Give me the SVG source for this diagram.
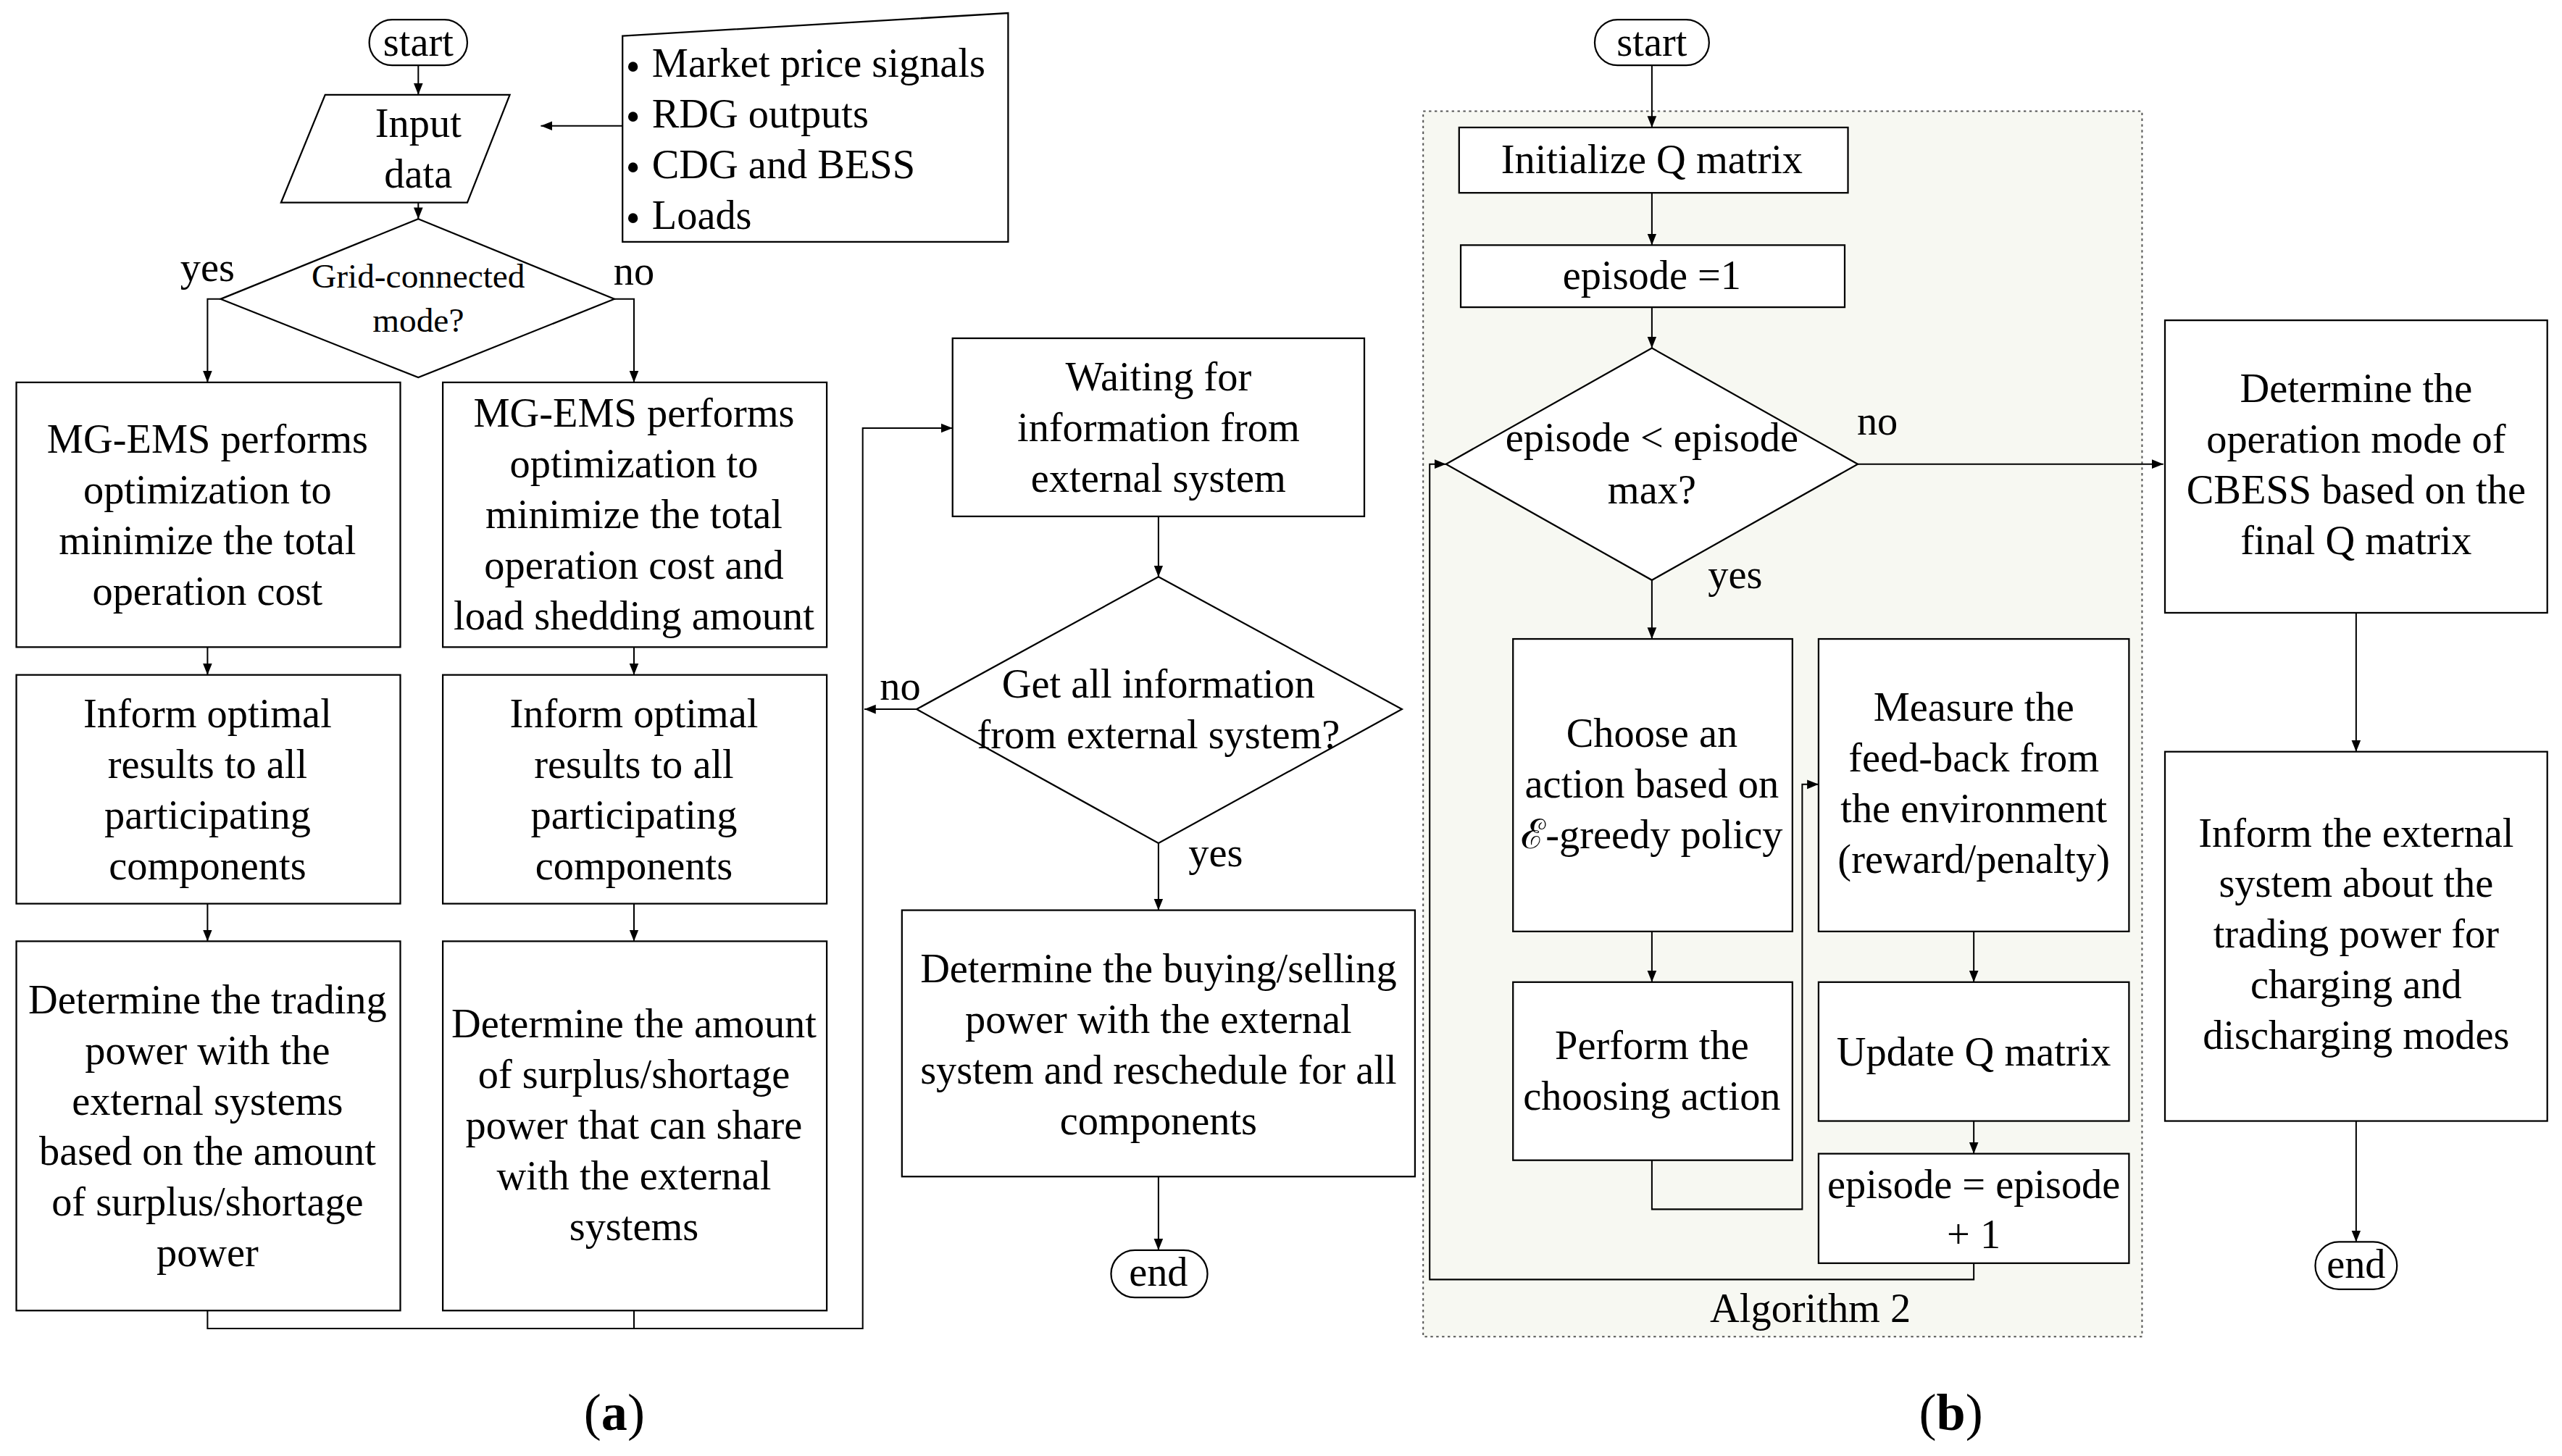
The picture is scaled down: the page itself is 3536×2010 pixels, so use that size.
<svg xmlns="http://www.w3.org/2000/svg" width="3536" height="2010" viewBox="0 0 3536 2010">
<defs>
<marker id="ar" viewBox="0 0 10 10" refX="10" refY="5" markerWidth="7" markerHeight="7" markerUnits="userSpaceOnUse" orient="auto"><path d="M0,1 L10,5 L0,9 z" fill="#000"/></marker>
<style>
.s{fill:#fff;stroke:#000;stroke-width:1}
.c{fill:none;stroke:#000;stroke-width:0.9}
text{font-family:'Liberation Serif','Times New Roman',Times,serif;font-size:25px;fill:#000;text-anchor:middle}
.sm{font-size:21px}
.l{text-anchor:start}
</style>
</defs>
<rect width="3536" height="2010" fill="#fff"/>
<g transform="scale(2.2551,2.2559)" font-family="Liberation Serif">
<g id="container"><rect x="871" y="68" width="440" height="750" fill="#f7f8f2" stroke="#555" stroke-width="0.9" stroke-dasharray="1.5,2"/><text x="1108" y="809">Algorithm 2</text></g>
<g id="connectors">
<path class="c" marker-end="url(#ar)" d="M256,40 V58"/>
<path class="c" marker-end="url(#ar)" d="M381,77 H331"/>
<path class="c" marker-end="url(#ar)" d="M256,124 V134"/>
<path class="c" marker-end="url(#ar)" d="M135,183 H127 V234"/>
<path class="c" marker-end="url(#ar)" d="M376,183 H388 V234"/>
<path class="c" marker-end="url(#ar)" d="M127,396 V413"/>
<path class="c" marker-end="url(#ar)" d="M388,396 V413"/>
<path class="c" marker-end="url(#ar)" d="M127,553 V576"/>
<path class="c" marker-end="url(#ar)" d="M388,553 V576"/>
<path class="c" marker-end="url(#ar)" d="M127,802 V813 H528 V262 H583"/>
<path class="c" d="M388,802 V813"/>
<path class="c" marker-end="url(#ar)" d="M709,316 V353"/>
<path class="c" marker-end="url(#ar)" d="M561,434 H529"/>
<path class="c" marker-end="url(#ar)" d="M709,516 V557"/>
<path class="c" marker-end="url(#ar)" d="M709,720 V765"/>
<path class="c" marker-end="url(#ar)" d="M1011,40 V78"/>
<path class="c" marker-end="url(#ar)" d="M1011,118 V150"/>
<path class="c" marker-end="url(#ar)" d="M1011,188 V213"/>
<path class="c" marker-end="url(#ar)" d="M1137,284 H1324"/>
<path class="c" marker-end="url(#ar)" d="M1011,355 V391"/>
<path class="c" marker-end="url(#ar)" d="M1011,570 V601"/>
<path class="c" marker-end="url(#ar)" d="M1011,710 V740 H1103 V480 H1113"/>
<path class="c" marker-end="url(#ar)" d="M1208,570 V601"/>
<path class="c" marker-end="url(#ar)" d="M1208,686 V706"/>
<path class="c" marker-end="url(#ar)" d="M1208,773 V783 H875 V284 H885"/>
<path class="c" marker-end="url(#ar)" d="M1442,375 V460"/>
<path class="c" marker-end="url(#ar)" d="M1442,686 V760"/>
</g>
<g id="startA"><rect class="s" x="226" y="12" width="60" height="28" rx="14"/><text x="256" y="34">start</text></g>
<g id="inputData"><polygon class="s" points="199,58 312,58 286,124 172,124"/><text x="256" y="84">Input</text><text x="256" y="115">data</text></g>
<g id="dataList"><polygon class="s" points="381,22 617,8 617,148 381,148"/>
<text class="l" x="383" y="49">•</text><text class="l" x="399" y="47">Market price signals</text>
<text class="l" x="383" y="80">•</text><text class="l" x="399" y="78">RDG outputs</text>
<text class="l" x="383" y="111">•</text><text class="l" x="399" y="109">CDG and BESS</text>
<text class="l" x="383" y="142">•</text><text class="l" x="399" y="140">Loads</text></g>
<g id="gridMode"><polygon class="s" points="256,134 376,183 256,231 135,183"/><text class="sm" x="256" y="176">Grid-connected</text><text class="sm" x="256" y="203">mode?</text><text x="127" y="172">yes</text><text x="388" y="174">no</text></g>
<g id="box1"><rect class="s" x="10" y="234" width="235" height="162"/><text x="127" y="277">MG-EMS performs</text><text x="127" y="308">optimization to</text><text x="127" y="339">minimize the total</text><text x="127" y="370">operation cost</text></g>
<g id="box2"><rect class="s" x="271" y="234" width="235" height="162"/><text x="388" y="261">MG-EMS performs</text><text x="388" y="292">optimization to</text><text x="388" y="323">minimize the total</text><text x="388" y="354">operation cost and</text><text x="388" y="385">load shedding amount</text></g>
<g id="box3"><rect class="s" x="10" y="413" width="235" height="140"/><text x="127" y="445">Inform optimal</text><text x="127" y="476">results to all</text><text x="127" y="507">participating</text><text x="127" y="538">components</text></g>
<g id="box4"><rect class="s" x="271" y="413" width="235" height="140"/><text x="388" y="445">Inform optimal</text><text x="388" y="476">results to all</text><text x="388" y="507">participating</text><text x="388" y="538">components</text></g>
<g id="box5"><rect class="s" x="10" y="576" width="235" height="226"/><text x="127" y="620">Determine the trading</text><text x="127" y="651">power with the</text><text x="127" y="682">external systems</text><text x="127" y="713">based on the amount</text><text x="127" y="744">of surplus/shortage</text><text x="127" y="775">power</text></g>
<g id="box6"><rect class="s" x="271" y="576" width="235" height="226"/><text x="388" y="635">Determine the amount</text><text x="388" y="666">of surplus/shortage</text><text x="388" y="697">power that can share</text><text x="388" y="728">with the external</text><text x="388" y="759">systems</text></g>
<g id="box7"><rect class="s" x="583" y="207" width="252" height="109"/><text x="709" y="239">Waiting for</text><text x="709" y="270">information from</text><text x="709" y="301">external system</text></g>
<g id="getAll"><polygon class="s" points="709,353 858,434 709,516 561,434"/><text x="709" y="427">Get all information</text><text x="709" y="458">from external system?</text><text x="551" y="428">no</text><text x="744" y="530">yes</text></g>
<g id="box8"><rect class="s" x="552" y="557" width="314" height="163"/><text x="709" y="601">Determine the buying/selling</text><text x="709" y="632">power with the external</text><text x="709" y="663">system and reschedule for all</text><text x="709" y="694">components</text></g>
<g id="endA"><rect class="s" x="680" y="765" width="59" height="29" rx="14.5"/><text x="709" y="787">end</text></g>
<text x="376" y="875" style="font-size:32px">(<tspan font-weight="bold">a</tspan>)</text>
<g id="startB"><rect class="s" x="976" y="12" width="70" height="28" rx="14"/><text x="1011" y="34">start</text></g>
<g id="initQ"><rect class="s" x="893" y="78" width="238" height="40"/><text x="1011" y="106">Initialize Q matrix</text></g>
<g id="ep1"><rect class="s" x="894" y="150" width="235" height="38"/><text x="1011" y="177">episode =1</text></g>
<g id="epMax"><polygon class="s" points="1011,213 1137,284 1011,355 885,284"/><text x="1011" y="276">episode &lt; episode</text><text x="1011" y="308">max?</text><text x="1149" y="266">no</text><text x="1062" y="360">yes</text></g>
<g id="choose"><rect class="s" x="926" y="391" width="171" height="179"/><text x="1011" y="457">Choose an</text><text x="1011" y="488">action based on</text><text x="1011" y="519">ℰ-greedy policy</text></g>
<g id="measure"><rect class="s" x="1113" y="391" width="190" height="179"/><text x="1208" y="441">Measure the</text><text x="1208" y="472">feed-back from</text><text x="1208" y="503">the environment</text><text x="1208" y="534">(reward/penalty)</text></g>
<g id="perform"><rect class="s" x="926" y="601" width="171" height="109"/><text x="1011" y="648">Perform the</text><text x="1011" y="679">choosing action</text></g>
<g id="updateQ"><rect class="s" x="1113" y="601" width="190" height="85"/><text x="1208" y="652">Update Q matrix</text></g>
<g id="epInc"><rect class="s" x="1113" y="706" width="190" height="67"/><text x="1208" y="733">episode = episode</text><text x="1208" y="764">+ 1</text></g>
<g id="determineB"><rect class="s" x="1325" y="196" width="234" height="179"/><text x="1442" y="246">Determine the</text><text x="1442" y="277">operation mode of</text><text x="1442" y="308">CBESS based on the</text><text x="1442" y="339">final Q matrix</text></g>
<g id="informB"><rect class="s" x="1325" y="460" width="234" height="226"/><text x="1442" y="518">Inform the  external</text><text x="1442" y="549">system about the</text><text x="1442" y="580">trading power for</text><text x="1442" y="611">charging and</text><text x="1442" y="642">discharging modes</text></g>
<g id="endB"><rect class="s" x="1417" y="760" width="50" height="29" rx="14.5"/><text x="1442" y="782">end</text></g>
<text x="1194" y="875" style="font-size:32px">(<tspan font-weight="bold">b</tspan>)</text>
</g>
</svg>
